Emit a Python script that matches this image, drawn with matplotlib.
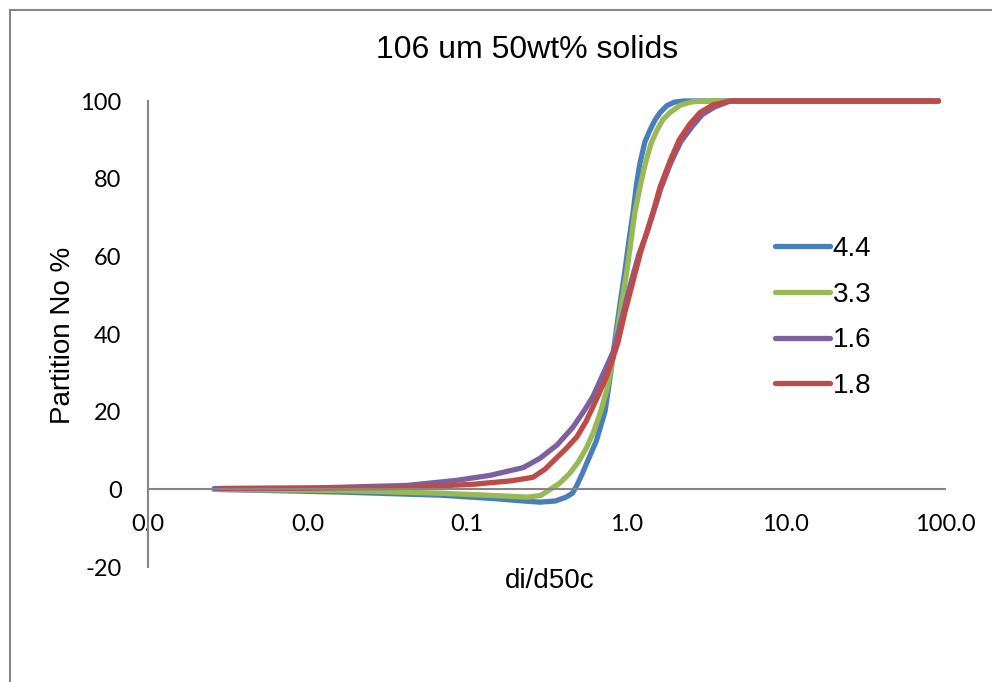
import matplotlib
matplotlib.use("Agg")
import matplotlib.pyplot as plt
from matplotlib.ticker import FixedLocator, FuncFormatter, NullLocator
from matplotlib.patches import Rectangle

# partition curves (di/d50c, partition %)
labels = ["4.4", "3.3", "1.6", "1.8"]
colors = ["#4a7ebb", "#98b954", "#7d60a0", "#be4b48"]

x_44 = [0.0026, 0.016, 0.068, 0.15, 0.226, 0.288, 0.36, 0.42, 0.46, 0.49, 0.53, 0.565,
        0.65, 0.736, 0.80, 0.86, 0.92, 0.98, 1.04, 1.11, 1.16, 1.22, 1.31, 1.41, 1.52,
        1.63, 1.8, 2.0, 2.3, 5.0, 20.0, 91.0]
y_44 = [0.0, -0.7, -1.5, -2.4, -3.0, -3.3, -3.0, -2.0, -1.0, 1.0, 4.0, 6.7,
        12.5, 20.0, 30.0, 40.0, 48.5, 56.0, 64.0, 72.0, 78.5, 84.0, 89.5, 92.5, 95.2,
        97.0, 98.8, 99.7, 100, 100, 100, 100]

x_33 = [0.0026, 0.016, 0.068, 0.15, 0.24, 0.29, 0.32, 0.38, 0.44, 0.5, 0.565, 0.62,
        0.686, 0.76, 0.82, 0.88, 0.94, 1.0, 1.06, 1.13, 1.23, 1.32, 1.43, 1.56, 1.7,
        1.88, 2.2, 2.6, 3.0, 10.0, 30.0, 91.0]
y_33 = [0.0, -0.3, -1.0, -1.6, -2.0, -1.6, -0.5, 1.5, 4.0, 7.0, 10.8, 14.5,
        19.6, 26.0, 33.0, 41.0, 48.5, 55.0, 62.5, 71.0, 78.5, 84.0, 89.0, 92.5, 95.2,
        97.0, 99.0, 99.8, 100, 100, 100, 100]

x_16 = [0.0026, 0.0099, 0.042, 0.086, 0.14, 0.226, 0.288, 0.37, 0.463, 0.55, 0.62,
        0.686, 0.76, 0.83, 0.9, 0.98, 1.05, 1.2, 1.36, 1.5, 1.65, 1.9, 2.2, 2.6, 3.0, 3.6,
        4.5, 10.0, 30.0, 91.0]
y_16 = [0.2, 0.3, 1.0, 2.3, 3.6, 5.6, 8.0, 11.5, 16.0, 20.5, 24.0,
        28.0, 32.0, 35.5, 41.0, 47.0, 52.0, 60.5, 66.5, 72.0, 77.5, 84.0, 89.5, 93.5, 96.5,
        98.5, 100, 100, 100, 100]

x_18 = [0.0029, 0.042, 0.11, 0.19, 0.26, 0.31, 0.37, 0.42, 0.49, 0.56, 0.66, 0.76,
        0.82, 0.89, 0.98, 1.11, 1.23, 1.36, 1.5, 1.63, 1.88, 2.15, 2.5, 2.9, 3.5, 4.5,
        10.0, 30.0, 91.0]
y_18 = [0.2, 0.5, 1.3, 2.2, 3.1, 5.2, 8.3, 10.5, 13.5, 17.5, 23.7, 29.5,
        33.5, 38.0, 45.5, 54.0, 61.0, 66.8, 72.5, 77.8, 84.5, 90.0, 94.0, 97.0, 99.0, 100,
        100, 100, 100]

xs = [x_44, x_33, x_16, x_18]
ys = [y_44, y_33, y_16, y_18]

xticks = [0.001, 0.01, 0.1, 1, 10, 100]
yticks = [-20, 0, 20, 40, 60, 80, 100]

grey = "#868686"
tick_font = "Lato"
text_font = "Liberation Sans"

fig = plt.figure(figsize=(9.92, 6.82), dpi=100)
ax = fig.add_axes([148/992, 1 - 567/682, (945 - 148)/992, (567 - 101)/682])

for x, y, c, lab in zip(xs, ys, colors, labels):
    ax.plot(x, y, color=c, lw=3.8, label=lab, clip_on=False,
            solid_capstyle="round", solid_joinstyle="round")

ax.set_xscale("log")
ax.set_xlim(0.001, 100)
ax.set_ylim(-20, 100)

ax.xaxis.set_major_locator(FixedLocator(xticks))
ax.xaxis.set_minor_locator(NullLocator())
ax.xaxis.set_major_formatter(FuncFormatter(lambda v, p: f"{v:.1f}"))
ax.yaxis.set_major_locator(FixedLocator(yticks))
ax.yaxis.set_major_formatter(FuncFormatter(lambda v, p: f"{v:.0f}"))

ax.spines["top"].set_visible(False)
ax.spines["right"].set_visible(False)
ax.spines["bottom"].set_position(("data", 0))
for s in ["left", "bottom"]:
    ax.spines[s].set_color(grey)
    ax.spines[s].set_linewidth(1.5)

ax.tick_params(axis="x", length=0, pad=18, labelsize=17, labelfontfamily=tick_font)
ax.tick_params(axis="y", length=0, pad=19, labelsize=17, labelfontfamily=tick_font)

fig.text(527/992, 1 - 50/682, "106 um 50wt% solids", ha="center", va="center",
         fontsize=23, family=text_font)
fig.text(550/992, 1 - 581/682, "di/d50c", ha="center", va="center",
         fontsize=20, family=text_font)
fig.text(63/992, 1 - 335/682, "Partition No %", ha="center", va="center",
         rotation=90, fontsize=20, family=text_font)

ax.legend(loc="upper left", bbox_to_anchor=(775/992, 1 - 236/682),
          bbox_transform=fig.transFigure, frameon=False,
          prop={"family": text_font, "size": 20}, handlelength=1.98,
          handletextpad=0.1, labelspacing=0.71, borderpad=0, borderaxespad=0)

# outer chart frame
fig.add_artist(Rectangle((10/992, -0.1), 2, (682 - 10)/682 + 0.1,
                         transform=fig.transFigure, fill=False,
                         edgecolor=grey, lw=1.5))

fig.savefig("out.png", dpi=100)
